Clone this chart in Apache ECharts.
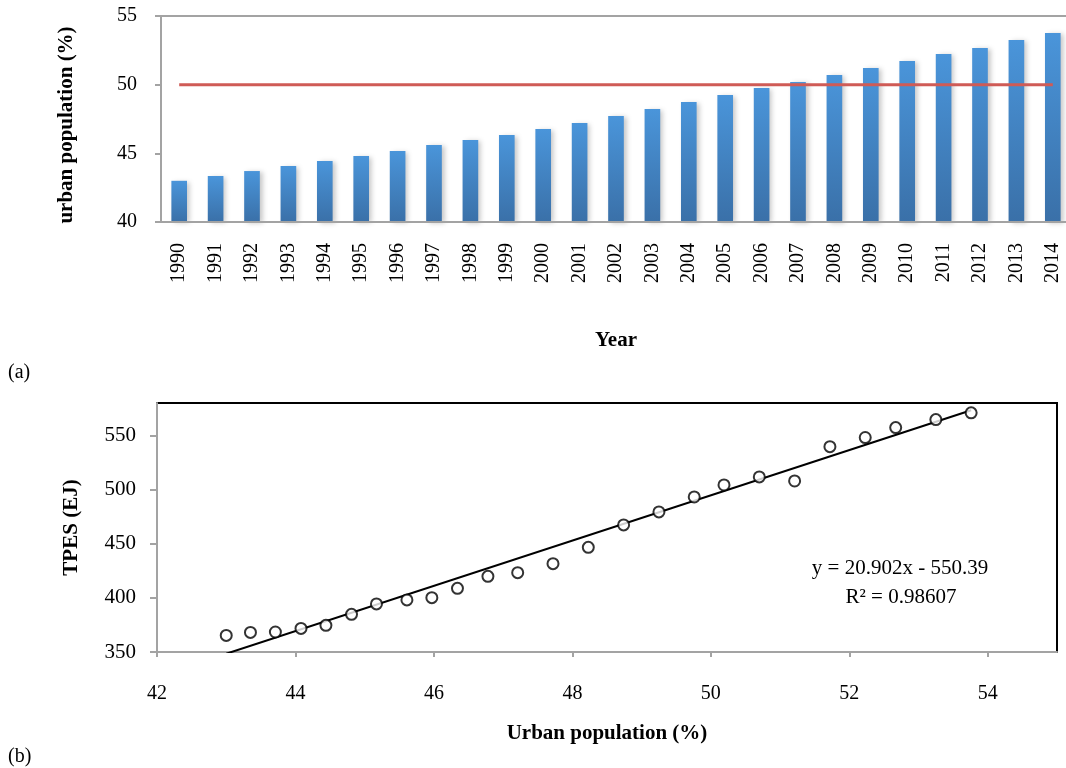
<!DOCTYPE html>
<html>
<head>
<meta charset="utf-8">
<script src="https://cdn.jsdelivr.net/npm/echarts@6/dist/echarts.min.js"></script>
<style>
html,body{margin:0;padding:0;background:#fff;}
#chart{width:1066px;height:768px;}
</style>
</head>
<body>
<div id="chart"></div>
<script>
const years = ['1990','1991','1992','1993','1994','1995','1996','1997','1998','1999','2000','2001','2002','2003','2004','2005','2006','2007','2008','2009','2010','2011','2012','2013','2014'];
const urbanPct = [43.0, 43.35, 43.71, 44.08, 44.44, 44.81, 45.17, 45.61, 45.97, 46.34, 46.78, 47.21, 47.72, 48.23, 48.74, 49.25, 49.76, 50.19, 50.70, 51.21, 51.72, 52.23, 52.67, 53.25, 53.76];
const tpesEJ = [365.3, 368.1, 368.5, 371.8, 374.6, 384.8, 394.4, 398.1, 400.2, 408.8, 419.9, 423.3, 431.6, 446.7, 467.4, 479.4, 493.2, 504.3, 511.7, 508.0, 539.7, 548.1, 557.3, 564.7, 570.9];
const thresholdPct = 50;
const trendSlope = 20.902;
const trendIntercept = -550.39;
const eqText = 'y = 20.902x - 550.39';
const r2Text = 'R² = 0.98607';

const FONT = 'Liberation Serif';
const AXIS_GRAY = '#a3a3a3';

const thresholdData = years.map(() => thresholdPct);
const scatterData = urbanPct.map((u, i) => [u, tpesEJ[i]]);
const xMin = Math.min(...urbanPct), xMax = Math.max(...urbanPct);
const trendData = [[xMin, trendSlope * xMin + trendIntercept], [xMax, trendSlope * xMax + trendIntercept]];

const chart = echarts.init(document.getElementById('chart'), null, {renderer: 'canvas'});
chart.setOption({
  animation: false,
  backgroundColor: '#fff',
  textStyle: {fontFamily: FONT},
  grid: [
    {left: 161, width: 910, top: 16, height: 206, outerBoundsMode: 'none', containLabel: false},
    {left: 157, right: 9, top: 403, height: 249, outerBoundsMode: 'none', containLabel: false, show: true, borderColor: '#000', borderWidth: 2, backgroundColor: 'transparent'}
  ],
  xAxis: [
    {
      type: 'category', gridIndex: 0, data: years, position: 'bottom', z: 3,
      axisLine: {lineStyle: {color: AXIS_GRAY, width: 2}},
      axisTick: {show: false},
      axisLabel: {rotate: 90, fontFamily: FONT, fontSize: 20, color: '#000', margin: 21, interval: 0},
      name: 'Year', nameLocation: 'middle', nameGap: 108,
      nameTextStyle: {fontFamily: FONT, fontSize: 21, fontWeight: 'bold', color: '#000'}
    },
    {
      type: 'category', gridIndex: 0, data: years, position: 'top', z: 3,
      axisLine: {lineStyle: {color: AXIS_GRAY, width: 2}},
      axisTick: {show: false}, axisLabel: {show: false}
    },
    {
      type: 'value', gridIndex: 1, min: 42, max: 55, interval: 2, z: 3,
      axisLine: {onZero: false, lineStyle: {color: AXIS_GRAY, width: 2}},
      axisTick: {show: true, length: 5, lineStyle: {color: AXIS_GRAY, width: 2}},
      axisLabel: {fontFamily: FONT, fontSize: 20, color: '#000', margin: 32, showMaxLabel: false},
      splitLine: {show: false},
      name: 'Urban population (%)', nameLocation: 'middle', nameGap: 71,
      nameTextStyle: {fontFamily: FONT, fontSize: 21, fontWeight: 'bold', color: '#000'}
    }
  ],
  yAxis: [
    {
      type: 'value', gridIndex: 0, min: 40, max: 55, interval: 5, z: 3,
      axisLine: {show: true, lineStyle: {color: AXIS_GRAY, width: 2}},
      axisTick: {show: true, length: 6, lineStyle: {color: AXIS_GRAY, width: 2}},
      axisLabel: {fontFamily: FONT, fontSize: 20, color: '#000', margin: 24},
      splitLine: {show: false},
      name: 'urban population (%)', nameLocation: 'middle', nameGap: 84,
      nameTextStyle: {fontFamily: FONT, fontSize: 21, fontWeight: 'bold', color: '#000', padding: [0, 12, 0, 0]}
    },
    {
      type: 'value', gridIndex: 1, min: 350, max: 580, interval: 50, z: 3,
      axisLine: {show: true, onZero: false, lineStyle: {color: AXIS_GRAY, width: 2}},
      axisTick: {show: true, length: 7, lineStyle: {color: AXIS_GRAY, width: 2}},
      axisLabel: {fontFamily: FONT, fontSize: 21, color: '#000', margin: 21, showMaxLabel: false},
      splitLine: {show: false},
      name: 'TPES (EJ)', nameLocation: 'middle', nameGap: 75,
      nameTextStyle: {fontFamily: FONT, fontSize: 21, fontWeight: 'bold', color: '#000'}
    }
  ],
  series: [
    {
      type: 'bar', xAxisIndex: 0, yAxisIndex: 0, data: urbanPct, barWidth: '43%',
      itemStyle: {
        color: new echarts.graphic.LinearGradient(0, 0, 0, 1, [
          {offset: 0, color: '#4a95da'},
          {offset: 1, color: '#3a70a8'}
        ]),
        shadowColor: 'rgba(0,0,0,0.22)', shadowBlur: 5, shadowOffsetX: 3, shadowOffsetY: 1
      }
    },
    {
      type: 'line', xAxisIndex: 0, yAxisIndex: 0, data: thresholdData,
      symbol: 'none', lineStyle: {color: '#cf5b56', width: 3}, z: 4
    },
    {
      type: 'line', xAxisIndex: 2, yAxisIndex: 1, data: trendData,
      symbol: 'none', lineStyle: {color: '#000', width: 2}, clip: true, z: 4
    },
    {
      type: 'scatter', xAxisIndex: 2, yAxisIndex: 1, data: scatterData,
      symbol: 'circle', symbolSize: 11,
      itemStyle: {color: '#fff', borderColor: '#000', borderWidth: 2}, z: 5
    }
  ],
  graphic: [
    {type: 'text', x: 900, y: 568, style: {text: eqText, font: '21px "Liberation Serif"', fill: '#000', align: 'center', verticalAlign: 'middle'}},
    {type: 'text', x: 901, y: 597, style: {text: r2Text, font: '21px "Liberation Serif"', fill: '#000', align: 'center', verticalAlign: 'middle'}},
    {type: 'text', x: 8, y: 373, style: {text: '(a)', font: '20px "Liberation Serif"', fill: '#000', verticalAlign: 'middle'}},
    {type: 'text', x: 8, y: 757, style: {text: '(b)', font: '20px "Liberation Serif"', fill: '#000', verticalAlign: 'middle'}}
  ]
});
</script>
</body>
</html>
